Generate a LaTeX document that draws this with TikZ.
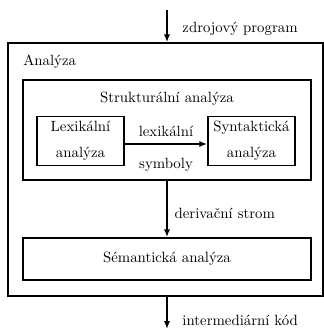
\documentclass[tikz,border=0pt]{standalone}
\usetikzlibrary{arrows.meta}
\begin{document}
\begin{tikzpicture}[x=0.64pt,y=-0.64pt,
  every node/.style={font=\fontsize{9.5}{11.5}\selectfont},
  box/.style={draw,line width=1.1pt,inner sep=0pt,align=center},
  lbl/.style={inner sep=0pt},
  arr/.style={line width=1.1pt,-{Latex[length=5pt,width=4pt]}}]
\useasboundingbox (0,0) rectangle (323,331);
\node[box,minimum width=201.6pt,minimum height=161.9pt] (outer) at (165.5,169.5) {};
\node[lbl,anchor=west] (analyza) at (23,62) {Analýza};
\node[box,minimum width=184.3pt,minimum height=64pt] (struct) at (167,130) {};
\node[lbl] (structlbl) at (167,99) {Strukturální analýza};
\node[box,minimum width=55.7pt,minimum height=31.4pt] (lex) at (80.5,141) {Lexikální\\[5.5pt]analýza};
\node[box,minimum width=55.7pt,minimum height=31.4pt] (syn) at (251.5,141) {Syntaktická\\[5.5pt]analýza};
\node[box,minimum width=184.3pt,minimum height=26.9pt] (sem) at (167,259) {Sémantická analýza};
\draw[arr] (lex.east |- 0,144) -- node[above=1pt] {lexikální} node[below=5pt] {symboly} (syn.west |- 0,144);
\coordinate (top) at (167,10);
\coordinate (bot) at (167,329);
\draw[arr] (top) -- node[right=6pt,yshift=-1.5pt] {zdrojový program} (top |- outer.north);
\draw[arr] (struct.south) -- node[right=1pt,yshift=-2.5pt] {derivační strom} (sem.north);
\draw[arr] (top |- outer.south) -- node[right=6pt,pos=0.72] {intermediární kód} (bot);
\end{tikzpicture}
\end{document}
